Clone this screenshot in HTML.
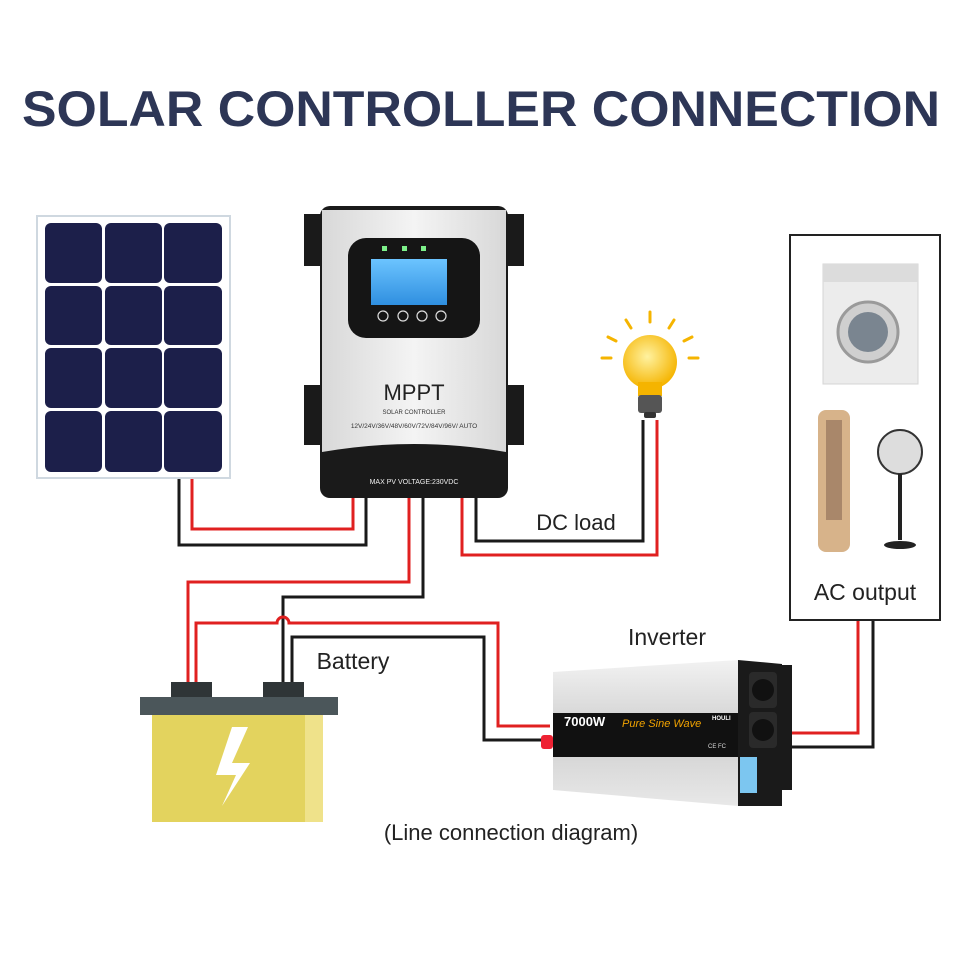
<!DOCTYPE html>
<html><head><meta charset="utf-8"><style>
html,body{margin:0;padding:0;background:#fff;width:960px;height:960px;overflow:hidden}
svg{display:block}
text{font-family:"Liberation Sans",Arial,sans-serif}
</style></head><body>
<svg width="960" height="960" viewBox="0 0 960 960" xmlns="http://www.w3.org/2000/svg">
<defs>
<linearGradient id="alu" x1="0" y1="0" x2="0" y2="1"><stop offset="0" stop-color="#f2f2f2"/><stop offset="0.5" stop-color="#cfcfcf"/><stop offset="1" stop-color="#e8e8e8"/></linearGradient>
<linearGradient id="body" x1="0" y1="0" x2="1" y2="0"><stop offset="0" stop-color="#d8d8d8"/><stop offset="0.5" stop-color="#f4f4f4"/><stop offset="1" stop-color="#d8d8d8"/></linearGradient>
<linearGradient id="lcd" x1="0" y1="0" x2="0" y2="1"><stop offset="0" stop-color="#6cc4ff"/><stop offset="1" stop-color="#2f8fe0"/></linearGradient>
<radialGradient id="bulb" cx="0.45" cy="0.4" r="0.6"><stop offset="0" stop-color="#fff2a0"/><stop offset="1" stop-color="#f5b400"/></radialGradient>
</defs>
<text x="22" y="126" textLength="918" lengthAdjust="spacingAndGlyphs" font-size="50" font-weight="bold" fill="#2d3656">SOLAR CONTROLLER CONNECTION</text>

<!-- wires -->
<g fill="none" stroke-width="3">
<polyline points="192,478 192,529 353,529 353,497" stroke="#e02020"/>
<polyline points="179,478 179,545 366,545 366,497" stroke="#1a1a1a"/>
<polyline points="409,497 409,582 188,582 188,684" stroke="#e02020"/>
<polyline points="423,497 423,597 283,597 283,684" stroke="#1a1a1a"/>
<path d="M196,684 V623 H277 A6,6 0 0 1 289,623 H498 V726 H550" stroke="#e02020"/>
<polyline points="292,684 292,637 484,637 484,740 550,740" stroke="#1a1a1a"/>
<polyline points="462,497 462,555 657,555 657,420" stroke="#e02020"/>
<polyline points="476,497 476,541 643,541 643,420" stroke="#1a1a1a"/>
<polyline points="780,733 858,733 858,620" stroke="#e02020"/>
<polyline points="780,747 873,747 873,620" stroke="#1a1a1a"/>
</g>

<!-- solar panel -->
<rect x="37" y="216" width="193" height="262" fill="#fff" stroke="#cfd8e0" stroke-width="2"/>
<g fill="#1c1f4a">
<rect x="45" y="223" width="57" height="60" rx="6"/><rect x="105" y="223" width="57" height="60" rx="6"/><rect x="164" y="223" width="58" height="60" rx="6"/>
<rect x="45" y="286" width="57" height="59" rx="6"/><rect x="105" y="286" width="57" height="59" rx="6"/><rect x="164" y="286" width="58" height="59" rx="6"/>
<rect x="45" y="348" width="57" height="60" rx="6"/><rect x="105" y="348" width="57" height="60" rx="6"/><rect x="164" y="348" width="58" height="60" rx="6"/>
<rect x="45" y="411" width="57" height="61" rx="6"/><rect x="105" y="411" width="57" height="61" rx="6"/><rect x="164" y="411" width="58" height="61" rx="6"/>
</g>

<!-- MPPT controller -->
<rect x="304" y="214" width="220" height="52" fill="#1a1a1a"/>
<rect x="304" y="385" width="220" height="60" fill="#1a1a1a"/>
<rect x="320" y="206" width="188" height="292" rx="10" fill="#1a1a1a"/>
<path d="M322,210 H506 V452 Q414,436 322,452 Z" fill="url(#body)"/>
<rect x="348" y="238" width="132" height="100" rx="18" fill="#151515"/>
<rect x="371" y="259" width="76" height="46" fill="url(#lcd)"/>
<g fill="#7df08a"><rect x="382" y="246" width="5" height="5"/><rect x="402" y="246" width="5" height="5"/><rect x="421" y="246" width="5" height="5"/></g>
<g fill="none" stroke="#ddd" stroke-width="1.2"><circle cx="383" cy="316" r="5"/><circle cx="403" cy="316" r="5"/><circle cx="422" cy="316" r="5"/><circle cx="441" cy="316" r="5"/></g>
<text x="414" y="400" text-anchor="middle" font-size="22" fill="#222">MPPT</text>
<text x="414" y="414" text-anchor="middle" font-size="6" fill="#333">SOLAR CONTROLLER</text>
<text x="414" y="428" text-anchor="middle" font-size="6.5" fill="#333">12V/24V/36V/48V/60V/72V/84V/96V/ AUTO</text>
<text x="414" y="484" text-anchor="middle" font-size="7" fill="#eee">MAX PV VOLTAGE:230VDC</text>

<!-- bulb -->
<g stroke="#f5b400" stroke-width="3" stroke-linecap="round">
<line x1="650" y1="312" x2="650" y2="322"/><line x1="626" y1="320" x2="631" y2="328"/><line x1="674" y1="320" x2="669" y2="328"/>
<line x1="608" y1="337" x2="616" y2="341"/><line x1="692" y1="337" x2="684" y2="341"/><line x1="602" y1="358" x2="611" y2="358"/><line x1="698" y1="358" x2="689" y2="358"/>
</g>
<circle cx="650" cy="362" r="27" fill="url(#bulb)"/>
<rect x="638" y="382" width="24" height="14" fill="#f5b400"/>
<rect x="638" y="395" width="24" height="18" rx="3" fill="#555"/>
<rect x="644" y="412" width="12" height="6" rx="2" fill="#333"/>

<!-- AC box -->
<rect x="790" y="235" width="150" height="385" fill="#fff" stroke="#222" stroke-width="2"/>
<rect x="823" y="264" width="95" height="120" fill="#ececec" stroke="#d5d5d5"/>
<rect x="823" y="264" width="95" height="18" fill="#dcdcdc"/>
<circle cx="868" cy="332" r="30" fill="#cfcfcf" stroke="#9a9a9a" stroke-width="3"/>
<circle cx="868" cy="332" r="20" fill="#7a8590"/>
<rect x="818" y="410" width="32" height="142" rx="8" fill="#d7b38a"/>
<rect x="826" y="420" width="16" height="100" fill="#a9876a"/>
<circle cx="900" cy="452" r="22" fill="#ddd" stroke="#333" stroke-width="2"/>
<line x1="900" y1="474" x2="900" y2="540" stroke="#222" stroke-width="4"/>
<ellipse cx="900" cy="545" rx="16" ry="4" fill="#222"/>
<text x="865" y="600" text-anchor="middle" font-size="23" fill="#222">AC output</text>

<text x="576" y="530" text-anchor="middle" font-size="22" fill="#222">DC load</text>
<text x="353" y="669" text-anchor="middle" font-size="23" fill="#222">Battery</text>
<text x="667" y="645" text-anchor="middle" font-size="23" fill="#222">Inverter</text>
<text x="511" y="840" text-anchor="middle" font-size="22" fill="#222">(Line connection diagram)</text>

<!-- battery -->
<rect x="171" y="682" width="41" height="16" fill="#2f3537"/>
<rect x="263" y="682" width="41" height="16" fill="#2f3537"/>
<rect x="140" y="697" width="198" height="18" fill="#4b565a"/>
<rect x="152" y="715" width="171" height="107" fill="#e3d35e"/>
<rect x="305" y="715" width="18" height="107" fill="#efe28a"/>
<polygon points="232,727 216,775 236,775 222,806 250,763 232,763 248,727" fill="#fff"/>

<!-- inverter -->
<rect x="780" y="665" width="12" height="125" fill="#1a1a1a"/>
<polygon points="553,672 738,660 738,806 553,790" fill="url(#alu)"/>
<polygon points="553,713 738,713 738,757 553,757" fill="#111"/>
<polygon points="738,660 782,664 782,806 738,806" fill="#1a1a1a"/>
<rect x="749" y="672" width="28" height="36" rx="4" fill="#2a2a2a"/><circle cx="763" cy="690" r="11" fill="#111"/>
<rect x="749" y="712" width="28" height="36" rx="4" fill="#2a2a2a"/><circle cx="763" cy="730" r="11" fill="#111"/>
<rect x="740" y="757" width="17" height="36" fill="#7cc6f0"/>
<text x="564" y="726" font-size="13" font-weight="bold" fill="#fff">7000W</text>
<text x="622" y="727" font-size="11" font-style="italic" fill="#f2a300">Pure Sine Wave</text>
<text x="712" y="720" font-size="6" font-weight="bold" fill="#fff">HOULI</text>
<text x="708" y="748" font-size="6" fill="#ddd">CE FC</text>
<rect x="541" y="735" width="12" height="14" rx="3" fill="#e23"/>
</svg>
</body></html>
